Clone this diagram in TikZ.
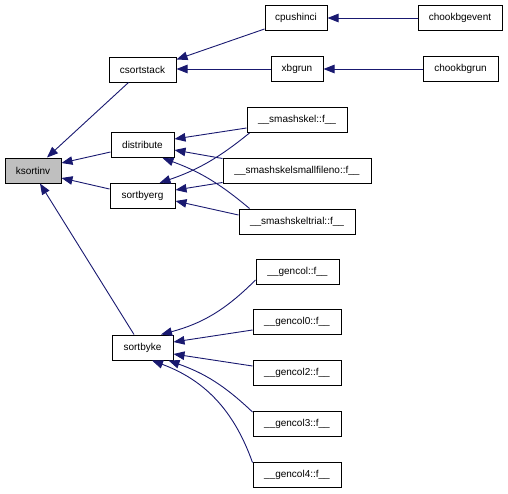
\documentclass[tikz,border=0pt]{standalone}
\usepackage{fontspec}
\setmainfont{Liberation Sans}
\usetikzlibrary{arrows.meta}

\begin{document}
\begin{tikzpicture}[>={Triangle[length=11pt,width=8.5pt]}, x=1pt, y=-1pt,
  fn/.style={draw, line width=1pt, fill=white, minimum height=25pt, inner sep=0pt, font=\fontsize{10}{12}\selectfont},
  call/.style={->, draw=doxyblue, line width=0.9pt}]

\definecolor{doxyblue}{RGB}{25,25,112}
\definecolor{doxygray}{RGB}{191,191,191}

\useasboundingbox (0,0) rectangle (508,493);

\node[fn, fill=doxygray, minimum width=56pt] (ksortinv) at (33,170.5) {ksortinv};
\node[fn, minimum width=67pt] (csortstack) at (142.5,69.5) {csortstack};
\node[fn, minimum width=63pt] (distribute) at (142.5,145) {distribute};
\node[fn, minimum width=65pt] (sortbyerg) at (142.5,196) {sortbyerg};
\node[fn, minimum width=61pt] (sortbyke) at (142.5,347.5) {sortbyke};
\node[fn, minimum width=62pt] (cpushinci) at (296,18) {cpushinci};
\node[fn, minimum width=52pt] (xbgrun) at (297,69) {xbgrun};
\node[fn, minimum width=84pt] (chookbgevent) at (460,18) {chookbgevent};
\node[fn, minimum width=75pt] (chookbgrun) at (460.5,69) {chookbgrun};
\node[fn, minimum width=100pt] (smashskel) at (297,120) {\_\_smashskel::f\_\_};
\node[fn, minimum width=148pt] (smallfileno) at (297,170.5) {\_\_smashskelsmallfileno::f\_\_};
\node[fn, minimum width=116pt] (trial) at (297,221.5) {\_\_smashskeltrial::f\_\_};
\node[fn, minimum width=83pt] (gencol) at (297.5,271.5) {\_\_gencol::f\_\_};
\foreach \i/\y in {0/322,2/373,3/424,4/474.5} {
  \node[fn, minimum width=88pt] (gencol\i) at (297,\y) {\_\_gencol\i::f\_\_};
}

\draw[call] ([xshift=-14pt]csortstack.south) -- ([xshift=14pt]ksortinv.north);
\draw[call] ([yshift=-7pt]distribute.west) -- ([yshift=7.5pt]ksortinv.east);
\draw[call] ([yshift=7pt]sortbyerg.west) -- ([yshift=-7.5pt]ksortinv.east);
\draw[call] ([xshift=-8.5pt]sortbyke.north) -- ([xshift=7pt]ksortinv.south);

\draw[call] ([yshift=2pt]cpushinci.south west) -- ([yshift=-3pt]csortstack.north east);
\draw[call] (xbgrun.west) -- (xbgrun.west -| csortstack.east);
\draw[call] (chookbgevent) -- (cpushinci);
\draw[call] (chookbgrun) -- (xbgrun);

\draw[call] ([yshift=-8pt]smashskel.west) -- ([yshift=6pt]distribute.east);
\draw[call] ([yshift=-1pt]smallfileno.north west) -- ([yshift=-5pt]distribute.east);
\draw[call] ([xshift=11pt]trial.north west) to[bend right=10] ([xshift=20pt]distribute.south);
\draw[call] ([xshift=3pt]smashskel.south west) to[bend left=10] ([xshift=17pt]sortbyerg.north);
\draw[call] ([yshift=1pt]smallfileno.south west) -- ([yshift=6pt]sortbyerg.east);
\draw[call] ([yshift=6.5pt]trial.west) -- ([yshift=-5pt]sortbyerg.east);

\draw[call] ([yshift=-8.5pt]gencol.west) to[bend left=15] ([xshift=18.5pt]sortbyke.north);
\draw[call] ([yshift=-8pt]gencol0.west) -- ([yshift=5.5pt]sortbyke.east);
\draw[call] ([yshift=7pt]gencol2.west) -- ([yshift=-6.5pt]sortbyke.east);
\draw[call] ([yshift=-1pt]gencol3.north west) to[bend right=12] ([xshift=-5pt]sortbyke.south east);
\draw[call] ([yshift=-1pt]gencol4.north west) to[bend right=25] ([xshift=9.5pt]sortbyke.south);

\end{tikzpicture}
\end{document}
